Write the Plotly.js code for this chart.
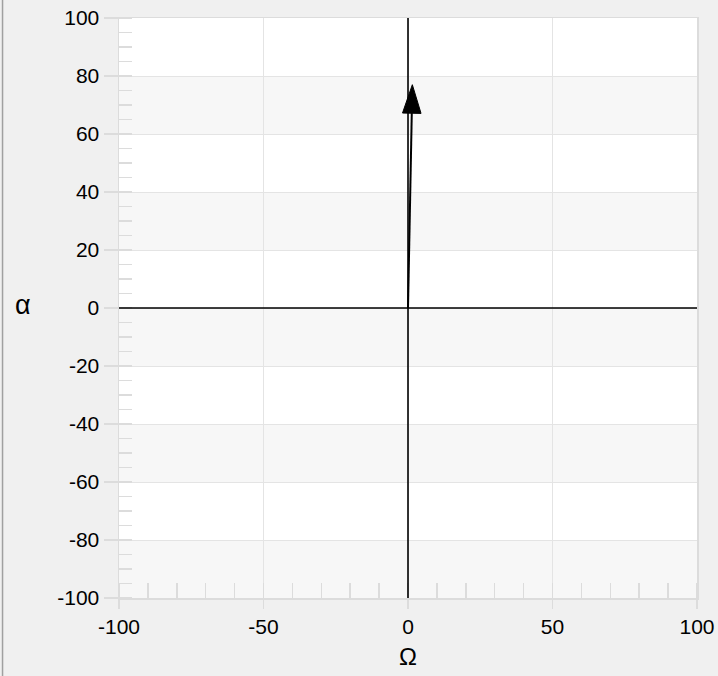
<!DOCTYPE html>
<html>
<head>
<meta charset="utf-8">
<script src="https://cdn.plot.ly/plotly-3.0.1.min.js"></script>
<style>html,body{margin:0;padding:0;background:#f0f0f0;}#chart{width:718px;height:676px;}</style>
</head>
<body>
<div id="chart"></div>
<script>
// Vector data (from origin to tip)
const vecX = [0, 1.5];
const vecY = [0, 77];

// Axis ticks
const xTickVals = [-100, -50, 0, 50, 100];
const xTickText = ['-100', '-50', '0', '50', '100'];
const yTickVals = [-100, -80, -60, -40, -20, 0, 20, 40, 60, 80, 100];
const yTickText = ['-100', '-80', '-60', '-40', '-20', '0', '20', '40', '60', '80', '100'];

const xTitle = 'Ω';
const yTitle = 'α';

const FONT = 'Liberation Sans, Arial, sans-serif';

// interlaced background strips between y ticks (every other interval, from top)
const shapes = [];
const sortedY = yTickVals.slice().sort((a, b) => b - a);
for (let i = 0; i < sortedY.length - 1; i++) {
  if (i % 2 === 1) {
    shapes.push({
      type: 'rect', xref: 'paper', yref: 'y', x0: 0, x1: 1,
      y0: sortedY[i + 1], y1: sortedY[i],
      fillcolor: '#f7f7f7', line: {width: 0}, layer: 'below'
    });
  }
}
// full-length zero lines (axes crossing at origin)
shapes.push({type: 'line', xref: 'x', yref: 'paper', x0: 0, x1: 0, y0: 0, y1: 1,
  line: {color: '#000', width: 1.6}, layer: 'above'});
shapes.push({type: 'line', xref: 'paper', yref: 'y', x0: 0, x1: 1, y0: 0, y1: 0,
  line: {color: '#000', width: 1.6}, layer: 'above'});
// window border at the left edge
shapes.push({type: 'line', xref: 'paper', yref: 'paper', x0: -0.2015, x1: -0.2015, y0: -0.2, y1: 1.1,
  line: {color: '#a0a0a0', width: 1.5}});

const trace = {
  x: vecX, y: vecY, type: 'scatter', mode: 'lines+markers',
  line: {color: '#000', width: 2},
  marker: {symbol: 'arrow', size: [0, 30], color: '#000', opacity: 1, angleref: 'previous',
    line: {width: 1, color: '#000'}},
  hoverinfo: 'skip', showlegend: false
};

const layout = {
  width: 718, height: 676,
  paper_bgcolor: '#f0f0f0', plot_bgcolor: '#ffffff',
  margin: {l: 119, r: 21, t: 18, b: 78},
  font: {family: FONT, size: 21, color: '#000'},
  showlegend: false,
  xaxis: {
    range: [-100, 100], tickmode: 'array', tickvals: xTickVals, ticktext: xTickText,
    ticks: 'outside', ticklen: 9, tickcolor: '#dcdcdc', tickwidth: 1.5,
    showgrid: true, gridcolor: '#e4e4e4', gridwidth: 1,
    zeroline: false,
    showline: true, linecolor: '#dcdcdc', linewidth: 1.5, mirror: true,
    tickfont: {family: FONT, size: 21, color: '#000'},
    minor: {tickmode: 'linear', tick0: 0, dtick: 10, ticks: 'inside', ticklen: 15, tickcolor: '#dcdcdc', tickwidth: 1.5, showgrid: false},
    title: {text: xTitle, font: {family: FONT, size: 24, color: '#000'}, standoff: 11},
    fixedrange: true
  },
  yaxis: {
    range: [-100, 100], tickmode: 'array', tickvals: yTickVals, ticktext: yTickText,
    ticks: 'outside', ticklen: 14, tickcolor: '#dcdcdc', tickwidth: 1.5,
    showgrid: true, gridcolor: '#e4e4e4', gridwidth: 1,
    zeroline: false,
    showline: true, linecolor: '#dcdcdc', linewidth: 1.5, mirror: true,
    tickfont: {family: FONT, size: 21, color: '#000'},
    minor: {tickmode: 'linear', tick0: 0, dtick: 5, ticks: 'inside', ticklen: 13, tickcolor: '#dcdcdc', tickwidth: 1.5, showgrid: false},
    fixedrange: true
  },
  shapes: shapes,
  annotations: [{
    text: yTitle, xref: 'paper', yref: 'paper', x: -0.166, y: 0.505,
    xanchor: 'center', yanchor: 'middle', showarrow: false,
    font: {family: FONT, size: 27, color: '#000'}
  }]
};

Plotly.newPlot('chart', [trace], layout, {displayModeBar: false, staticPlot: true});
</script>
</body>
</html>
